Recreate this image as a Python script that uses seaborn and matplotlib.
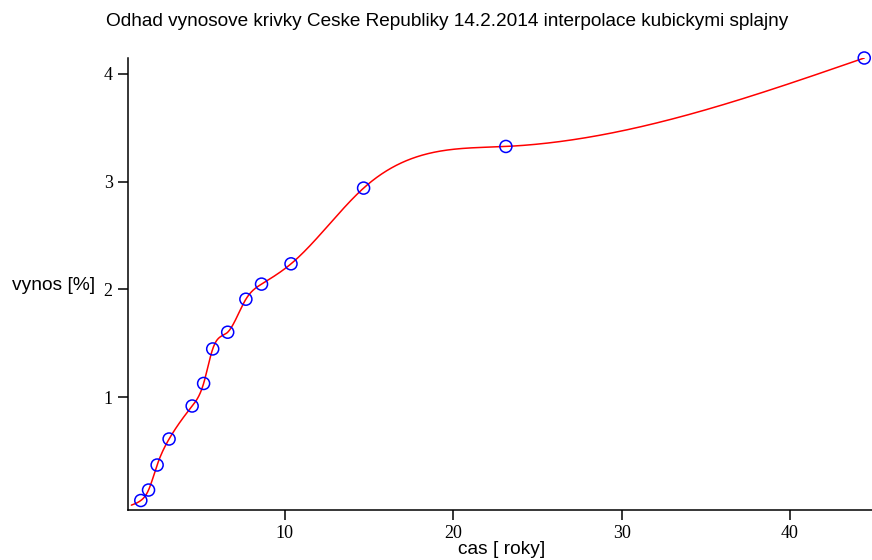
import numpy as np
import pandas as pd
import matplotlib
matplotlib.use("Agg")
import matplotlib.pyplot as plt
import seaborn as sns

# Splatnost dluhopisu [roky] a jejich vynos do splatnosti [%]
maturity = [1.45, 1.91, 2.42, 3.13, 4.50, 5.18, 5.72, 6.61, 7.69, 8.62,
            10.37, 14.68, 23.13, 44.41]
yield_pct = [0.043, 0.140, 0.372, 0.613, 0.919, 1.128, 1.448, 1.603, 1.909,
             2.049, 2.237, 2.939, 3.325, 4.145]

# kratkodoby zacatek krivky (bez znacky)
curve_start_cas = [0.89]
curve_start_vynos = [0.0]

x_ticks = [10, 20, 30, 40]
y_ticks = [1, 2, 3, 4]


def natural_spline(x, y):
    """Natural cubic spline; returns knots and per-segment coefficients."""
    x = np.asarray(x, float)
    y = np.asarray(y, float)
    n = len(x)
    h = np.diff(x)
    A = np.zeros((n, n))
    rhs = np.zeros(n)
    A[0, 0] = 1.0
    A[-1, -1] = 1.0
    for i in range(1, n - 1):
        A[i, i - 1] = h[i - 1]
        A[i, i] = 2 * (h[i - 1] + h[i])
        A[i, i + 1] = h[i]
        rhs[i] = 6 * ((y[i + 1] - y[i]) / h[i] - (y[i] - y[i - 1]) / h[i - 1])
    M = np.linalg.solve(A, rhs)
    a = y[:-1]
    b = (y[1:] - y[:-1]) / h - h * (2 * M[:-1] + M[1:]) / 6
    c = M[:-1] / 2
    d = (M[1:] - M[:-1]) / (6 * h)
    return x, np.column_stack([a, b, c, d])


def spline_eval(knots, coef, t):
    idx = np.clip(np.searchsorted(knots, t, side="right") - 1, 0, len(coef) - 1)
    d = t - knots[idx]
    c = coef[idx]
    return c[:, 0] + c[:, 1] * d + c[:, 2] * d ** 2 + c[:, 3] * d ** 3


knots, coef = natural_spline(curve_start_cas + maturity,
                             curve_start_vynos + yield_pct)
t = np.linspace(knots[0], knots[-1], 1500)
curve = pd.DataFrame({"cas": t, "vynos": spline_eval(knots, coef, t)})
pts = pd.DataFrame({"cas": maturity, "vynos": yield_pct})

sns.set_style("ticks")
plt.rcParams["font.family"] = ["Liberation Serif", "DejaVu Serif"]
plt.rcParams["text.color"] = "black"
plt.rcParams["xtick.color"] = "black"
plt.rcParams["ytick.color"] = "black"

fig = plt.figure(figsize=(8.72, 5.6), dpi=100)
ax = fig.add_axes([128 / 872, 1 - 510 / 560, 1 - 128 / 872, (510 - 58) / 560])

sns.lineplot(data=curve, x="cas", y="vynos", ax=ax, color="red",
             linewidth=1.1, sort=False)
sns.scatterplot(data=pts, x="cas", y="vynos", ax=ax, marker="o", s=75,
                facecolor="none", edgecolor="blue", linewidth=1.1, zorder=3,
                clip_on=False)

ax.set_xlim(0.69, 44.87)
ax.set_ylim(-0.045, 4.145)
ax.set_xticks(x_ticks)
ax.set_yticks(y_ticks)
ax.set_xticklabels([str(v) for v in x_ticks])
ax.set_yticklabels([str(v) for v in y_ticks])
ax.tick_params(axis="both", direction="out", length=7, width=1.1,
               labelsize=13, colors="black", pad=4)
ax.set_xlabel("")
ax.set_ylabel("")
sns.despine(ax=ax)
for s in ("left", "bottom"):
    ax.spines[s].set_linewidth(1.1)
    ax.spines[s].set_color("black")

sans = ["Liberation Sans", "DejaVu Sans"]
fig.text(447 / 872, 1 - 22 / 560,
         "Odhad vynosove krivky Ceske Republiky 14.2.2014 interpolace kubickymi splajny",
         ha="center", va="center", fontsize=13.7, family=sans, color="black")
fig.text(12 / 872, 1 - 285 / 560, "vynos [%]", ha="left", va="center",
         fontsize=13.8, family=sans, color="black")
fig.text(502 / 872, 1 - 549 / 560, "cas [ roky]", ha="center", va="center",
         fontsize=13.8, family=sans, color="black")

fig.savefig("out.png", dpi=100)
